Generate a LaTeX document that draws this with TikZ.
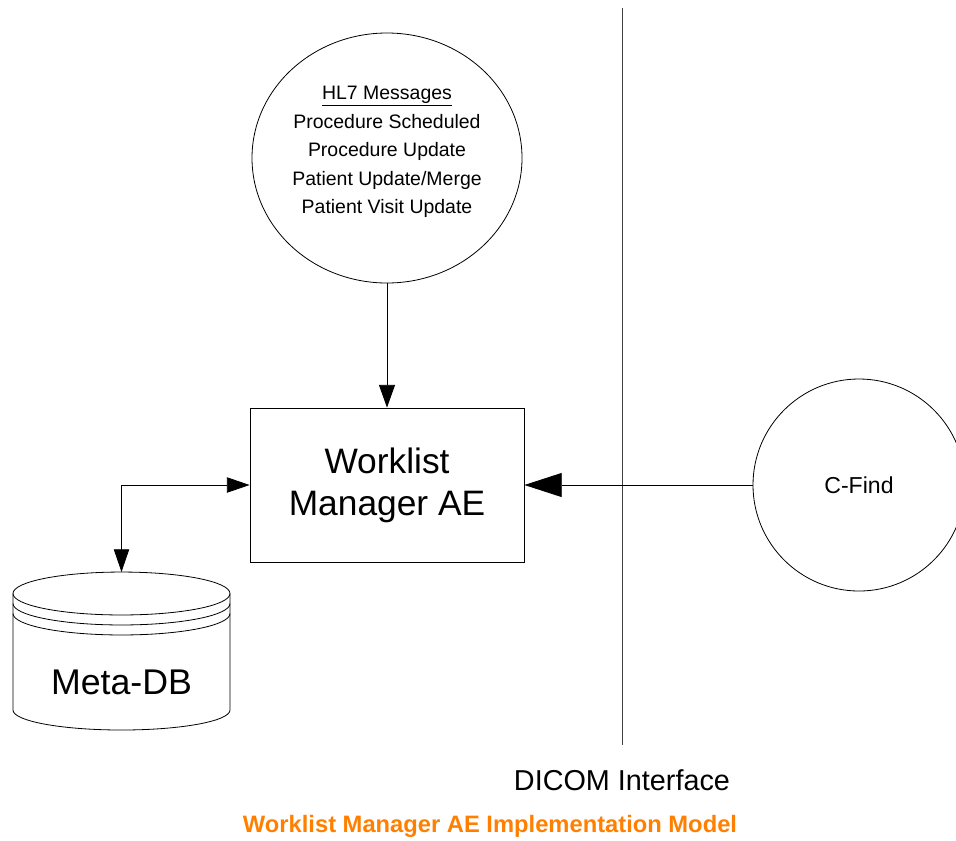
\documentclass[tikz,border=0pt]{standalone}
\usepackage{fontspec}
\setmainfont{Liberation Sans}
\usetikzlibrary{arrows.meta,shapes.geometric}
\definecolor{captionorange}{RGB}{255,128,0}
\tikzset{
  thinline/.style={line width=0.6pt},
  msgcircle/.style={draw, thinline, ellipse, inner sep=0pt, align=center},
  aebox/.style={draw, thinline, rectangle, inner sep=0pt, align=center,
    minimum width=205.5pt, minimum height=115.5pt,
    font=\fontsize{26.5}{31.5}\selectfont},
  flow/.style={thinline, -{Triangle[length=17pt, width=12pt]}},
  bigflow/.style={thinline, -{Triangle[length=28pt, width=18pt]}},
  dbflow/.style={thinline, {Triangle[length=17pt, width=11.5pt]}-{Triangle[length=17pt, width=11.5pt]}},
}
\begin{document}
\begin{tikzpicture}[x={(0.75pt, 0pt)}, y={(0pt, -0.75pt)}]
  \clip (0, 0) rectangle (956, 840);

  \draw[thinline, black!75] (622, 8) to (622, 745);
  \node (dicom) at (622, 780) {\fontsize{21.6}{26}\selectfont DICOM Interface};

  \node[msgcircle, minimum width=202.5pt, minimum height=187.5pt,
        font=\fontsize{14.6}{21.4}\selectfont] (hl7) at (387, 158)
    {\underline{HL7 Messages}\\Procedure Scheduled\\Procedure Update\\Patient Update/Merge\\Patient Visit Update\rule[-12pt]{0pt}{0pt}};
  \node[aebox] (wm) at (387, 485) {Worklist\\Manager AE};
  \node[msgcircle, minimum size=159pt, font=\fontsize{17.3}{20}\selectfont] (cfind) at (859, 485) {C-Find};

  % meta-db cylinder
  \draw[thinline] (121.5, 593.5) ellipse [x radius=81.375pt, y radius=16.1pt];
  \foreach \y in {603.5, 613.5} {
    \draw[thinline] (13, \y) arc [start angle=180, end angle=360, x radius=81.375pt, y radius=16.1pt];
  }
  \draw[thinline] (13, 593.5) to (13, 710)
    arc [start angle=180, end angle=360, x radius=81.375pt, y radius=15pt]
    to (230, 593.5);
  \coordinate (dbtop) at (121.5, 572);
  \node[font=\fontsize{26.8}{32}\selectfont] (metadb) at (121.5, 682) {Meta-DB};

  \draw[flow] (hl7.south) to (wm.north);
  \draw[bigflow] (cfind.west) to (wm.east);
  \draw[dbflow] (wm.west) -| (dbtop);

  \node[text=captionorange, font=\fontsize{17.8}{21}\selectfont\bfseries] (caption) at (490, 826.5)
    {Worklist Manager AE Implementation Model};
\end{tikzpicture}
\end{document}
